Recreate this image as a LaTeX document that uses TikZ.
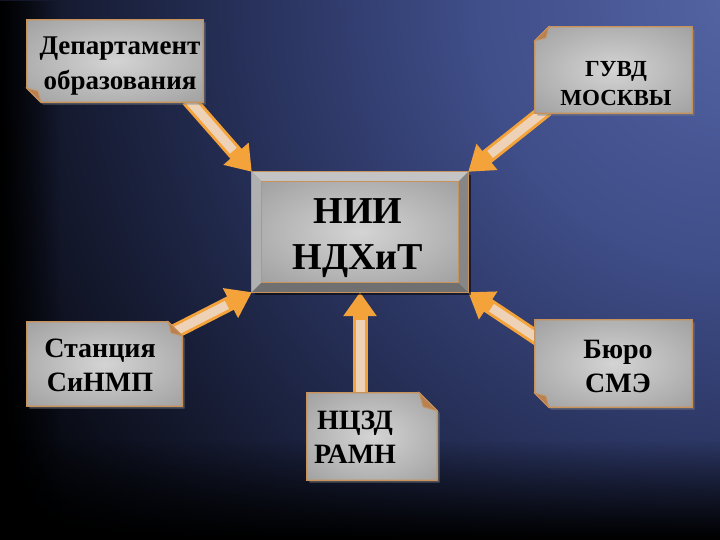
\documentclass[tikz,border=0pt]{standalone}
\usepackage{fontspec}
\setmainfont{Liberation Serif}
\usetikzlibrary{calc,arrows.meta,shadows,fadings}
\pgfdeclarelayer{bglayer}
\pgfdeclarelayer{arrlayer}
\pgfdeclarelayer{boxlayer}
\pgfsetlayers{bglayer,arrlayer,boxlayer,main}
\definecolor{boxin}{HTML}{D4D4D4}
\definecolor{boxout}{HTML}{8C8C8C}
\definecolor{boxedge}{HTML}{C8925A}
\definecolor{foldc}{HTML}{B98052}
\definecolor{arrorange}{HTML}{F4A23A}
\definecolor{arrlight}{HTML}{EED2B8}
\definecolor{bga}{HTML}{5464A4}
\definecolor{bgb}{HTML}{3F4D88}
\definecolor{bgc}{HTML}{28325C}
\definecolor{bgd}{HTML}{151A30}
\definecolor{frmmid}{HTML}{A4A4A4}
\definecolor{frmtop}{HTML}{C4C4C4}
\definecolor{frmleft}{HTML}{B0B0B0}
\definecolor{frmbot}{HTML}{707070}
\definecolor{frmright}{HTML}{868686}
\pgfdeclareradialshading{boxshade}{\pgfpointorigin}{color(0bp)=(boxin); color(50bp)=(boxout)}
\pgfdeclareradialshading{bgshade}{\pgfpointorigin}{color(0bp)=(bga); color(7.5bp)=(bgb); color(13.5bp)=(bgc); color(19bp)=(bgd); color(25bp)=(black); color(50bp)=(black)}
\tikzset{
  lbl/.style={align=center, text=black, inner sep=0pt, font=\bfseries},
  boxbody/.style={shade, shading=boxshade, draw=boxedge, line width=1.3pt,
    drop shadow={shadow xshift=2.5pt, shadow yshift=-2.5pt, opacity=0.55}},
  fold/.style={fill=foldc, draw=boxedge, line width=0.8pt},
  arrout/.style={draw=arrorange, line width=15pt, -{Triangle[width=32pt,length=24pt]}},
  arrin/.style={draw=arrlight, line width=9pt, shorten >=28pt},
  slot/.style={inner sep=0pt}
}
\begin{document}
\begin{tikzpicture}[x=1pt,y=-1pt]
\useasboundingbox (0,0) rectangle (720,540);
\begin{pgfonlayer}{bglayer}
  \begin{scope}
    \clip (0,0) rectangle (720,540);
    \fill[black] (0,0) rectangle (720,540);
    \shade[shading=bgshade] (740,0) circle (900);
    \fill[black, path fading=east] (0,0) rectangle (60,540);
    \fill[black, path fading=north] (0,440) rectangle (720,540);
  \end{scope}
\end{pgfonlayer}

% box slots
\node[slot, minimum width=176pt, minimum height=82pt] (d) at (115,61) {};
\node[slot, minimum width=157pt, minimum height=86pt] (g) at (613.5,70) {};
\node[slot, minimum width=216pt, minimum height=120pt] (n) at (360,232) {};
\node[slot, minimum width=155pt, minimum height=84pt] (s) at (104.5,364) {};
\node[slot, minimum width=157pt, minimum height=87pt] (b) at (613.5,363.5) {};
\node[slot, minimum width=130pt, minimum height=87pt] (r) at (372,436.5) {};

% texts
\node[lbl, font=\bfseries\fontsize{27}{35}\selectfont] (dt) at (120,66) {Департамент\\образования};
\node[lbl, font=\bfseries\fontsize{23}{29}\selectfont] (gt) at (616,84) {ГУВД\\МОСКВЫ};
\node[lbl, font=\bfseries\fontsize{38}{46}\selectfont] (nt) at (358,238) {НИИ\\НДХиТ};
\node[lbl, font=\bfseries\fontsize{28}{34}\selectfont] (st) at (100,365) {Станция\\СиНМП};
\node[lbl, font=\bfseries\fontsize{28}{34}\selectfont] (bt) at (618,366) {Бюро\\СМЭ};
\node[lbl, font=\bfseries\fontsize{28}{34}\selectfont] (rt) at (355,437) {НЦЗД\\РАМН};

% arrows
\begin{pgfonlayer}{arrlayer}
  \draw[arrout] ($(d.south east)+(-15,-3)$) -- (n.north west);
  \draw[arrin]  ($(d.south east)+(-15,-3)$) -- (n.north west);
  \draw[arrout] ($(g.south west)+(12,-4)$) -- (n.north east);
  \draw[arrin]  ($(g.south west)+(12,-4)$) -- (n.north east);
  \draw[arrout] ($(s.north east)+(-8,10)$) -- (n.south west);
  \draw[arrin]  ($(s.north east)+(-8,10)$) -- (n.south west);
  \draw[arrout] ($(b.north west)+(8,22)$) -- (n.south east);
  \draw[arrin]  ($(b.north west)+(8,22)$) -- (n.south east);
  \draw[arrout] ($(n.south |- r.north)+(0,5)$) -- (n.south);
  \draw[arrin]  ($(n.south |- r.north)+(0,5)$) -- (n.south);
\end{pgfonlayer}

% boxes
\begin{pgfonlayer}{boxlayer}
  % Departament: fold bottom-left
  \path[boxbody] (d.north west) -- (d.north east) -- (d.south east) -- ($(d.south west)+(14,0)$) -- ($(d.south west)+(0,-14)$) -- cycle;
  \path[fold] ($(d.south west)+(14,0)$) -- ($(d.south west)+(0,-14)$) -- ($(d.south west)+(11,-11)$) -- cycle;
  % GUVD: fold top-left
  \path[boxbody] ($(g.north west)+(14,0)$) -- (g.north east) -- (g.south east) -- (g.south west) -- ($(g.north west)+(0,14)$) -- cycle;
  \path[fold] ($(g.north west)+(14,0)$) -- ($(g.north west)+(0,14)$) -- ($(g.north west)+(11,11)$) -- cycle;
  % Stanciya: fold top-right
  \path[boxbody] (s.north west) -- ($(s.north east)+(-14,0)$) -- ($(s.north east)+(0,14)$) -- (s.south east) -- (s.south west) -- cycle;
  \path[fold] ($(s.north east)+(-14,0)$) -- ($(s.north east)+(0,14)$) -- ($(s.north east)+(-11,11)$) -- cycle;
  % Byuro: fold bottom-left
  \path[boxbody] (b.north west) -- (b.north east) -- (b.south east) -- ($(b.south west)+(14,0)$) -- ($(b.south west)+(0,-14)$) -- cycle;
  \path[fold] ($(b.south west)+(14,0)$) -- ($(b.south west)+(0,-14)$) -- ($(b.south west)+(11,-11)$) -- cycle;
  % NCZD: fold top-right
  \path[boxbody] (r.north west) -- ($(r.north east)+(-18,0)$) -- ($(r.north east)+(0,18)$) -- (r.south east) -- (r.south west) -- cycle;
  \path[fold] ($(r.north east)+(-18,0)$) -- ($(r.north east)+(0,18)$) -- ($(r.north east)+(-14,14)$) -- cycle;
  % NII: bevelled frame
  \fill[black, opacity=0.55] ($(n.north west)+(3,3)$) rectangle ($(n.south east)+(3,3)$);
  \fill[frmmid] (n.north west) rectangle (n.south east);
  \fill[frmtop] (n.north west) -- (n.north east) -- ($(n.north east)+(-10,10)$) -- ($(n.north west)+(10,10)$) -- cycle;
  \fill[frmleft] (n.north west) -- ($(n.north west)+(10,10)$) -- ($(n.south west)+(10,-10)$) -- (n.south west) -- cycle;
  \fill[frmbot] (n.south west) -- ($(n.south west)+(10,-10)$) -- ($(n.south east)+(-10,-10)$) -- (n.south east) -- cycle;
  \fill[frmright] (n.north east) -- ($(n.north east)+(-10,10)$) -- ($(n.south east)+(-10,-10)$) -- (n.south east) -- cycle;
  \draw[boxedge, line width=1.3pt] (n.north west) rectangle (n.south east);
  \shade[shading=boxshade, draw=boxedge, line width=1pt] ($(n.north west)+(10,10)$) rectangle ($(n.south east)+(-10,-10)$);
\end{pgfonlayer}
\end{tikzpicture}
\end{document}
